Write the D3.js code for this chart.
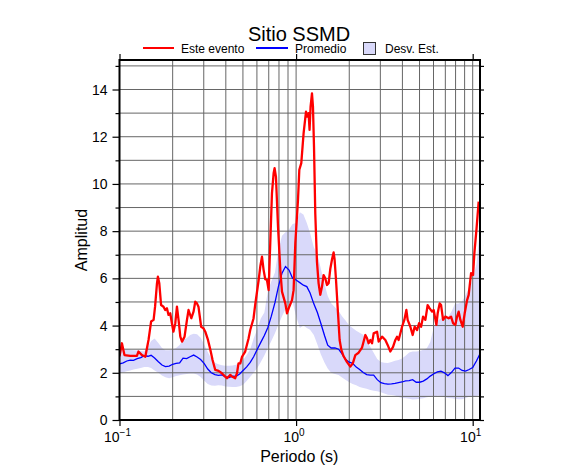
<!DOCTYPE html>
<html>
<head>
<meta charset="utf-8">
<script src="https://cdn.jsdelivr.net/npm/d3@7/dist/d3.min.js"></script>
<style>
  body { margin: 0; background: #fff; }
  svg text { font-family: "Liberation Sans", Arial, Helvetica, sans-serif; fill: #000; }
</style>
</head>
<body>
<svg id="svg1" width="586" height="475"></svg>
<script>
// periods (s) shared by the mean and the std-dev band
periods = [0.1, 0.105, 0.11, 0.115, 0.12, 0.126, 0.132, 0.138, 0.145, 0.151,
  0.158, 0.166, 0.174, 0.182, 0.191, 0.2, 0.209, 0.219, 0.229, 0.24,
  0.251, 0.263, 0.275, 0.288, 0.302, 0.316, 0.331, 0.347, 0.363, 0.38,
  0.398, 0.417, 0.437, 0.457, 0.479, 0.501, 0.525, 0.55, 0.575, 0.603,
  0.631, 0.661, 0.692, 0.724, 0.759, 0.794, 0.832, 0.871, 0.912, 0.955,
  1.0, 1.05, 1.1, 1.15, 1.2, 1.26, 1.32, 1.38, 1.45, 1.51,
  1.58, 1.66, 1.74, 1.82, 1.91, 2.0, 2.09, 2.19, 2.29, 2.4,
  2.51, 2.63, 2.75, 2.88, 3.02, 3.16, 3.31, 3.47, 3.63, 3.8,
  3.98, 4.17, 4.37, 4.57, 4.79, 5.01, 5.25, 5.5, 5.75, 6.03,
  6.31, 6.61, 6.92, 7.24, 7.59, 7.94, 8.32, 8.71, 9.12, 9.55,
  10.0, 10.5, 11.0];

// Promedio
meanAmp = [2.38, 2.42, 2.5, 2.54, 2.53, 2.6, 2.64, 2.72, 2.7, 2.74,
  2.63, 2.47, 2.33, 2.26, 2.28, 2.36, 2.4, 2.42, 2.62, 2.6,
  2.68, 2.75, 2.67, 2.56, 2.39, 2.16, 2.0, 1.92, 1.89, 1.91,
  1.83, 1.8, 1.86, 1.85, 1.95, 2.1, 2.25, 2.44, 2.68, 3.0,
  3.29, 3.58, 3.92, 4.4, 4.97, 5.65, 6.22, 6.5, 6.35, 6.0,
  5.93, 5.82, 5.71, 5.65, 5.38, 4.92, 4.55, 4.1, 3.57, 3.17,
  3.05, 3.05, 3.0, 2.8, 2.56, 2.45, 2.4, 2.24, 2.14, 2.01,
  1.92, 1.9, 1.9, 1.71, 1.58, 1.54, 1.52, 1.53, 1.55, 1.58,
  1.61, 1.66, 1.67, 1.71, 1.6, 1.6, 1.65, 1.74, 1.86, 1.96,
  2.04, 2.07, 2.0, 1.88, 2.02, 2.2, 2.2, 2.1, 2.07, 2.14,
  2.22, 2.5, 2.8];

// Desv. Est. band, upper and lower edges
sdHigh = [2.97, 2.99, 3.0, 2.98, 2.96, 2.94, 2.92, 2.9, 3.1, 3.35,
  3.45, 3.26, 3.05, 2.96, 2.95, 2.99, 3.05, 3.18, 3.41, 3.46,
  3.6, 3.65, 3.63, 3.48, 3.2, 2.88, 2.6, 2.42, 2.36, 2.32,
  2.3, 2.3, 2.31, 2.34, 2.42, 2.53, 2.75, 3.0, 3.45, 3.85,
  4.3, 4.55, 5.45, 5.88, 6.25, 7.2, 7.8, 7.95, 8.07, 8.3,
  8.35, 8.8, 8.7, 8.34, 7.92, 7.32, 7.02, 6.42, 5.75, 5.25,
  4.95, 4.78, 4.62, 4.4, 4.2, 4.0, 3.9, 3.78, 3.7, 3.61,
  3.35, 3.1, 2.85, 2.58, 2.46, 2.42, 2.41, 2.46, 2.51, 2.54,
  2.6, 2.72, 2.86, 2.9, 2.9, 2.92, 2.98, 3.04, 3.3, 3.95,
  4.2, 4.3, 4.45, 4.35, 4.6, 4.92, 4.94, 5.02, 5.3, 5.62,
  5.95, 6.6, 8.1];

sdLow = [1.99, 2.02, 2.06, 2.1, 2.14, 2.17, 2.2, 2.25, 2.25, 2.2,
  2.1, 2.0, 1.88, 1.81, 1.77, 1.81, 1.86, 1.9, 1.93, 1.95,
  1.97, 1.97, 1.93, 1.82, 1.66, 1.52, 1.46, 1.45, 1.47, 1.46,
  1.42, 1.41, 1.4, 1.4, 1.43, 1.49, 1.65, 1.83, 2.0, 2.2,
  2.46, 2.73, 3.05, 3.35, 3.68, 4.03, 4.4, 4.7, 4.9, 5.0,
  4.4, 3.9, 4.0, 3.9, 3.82, 3.6, 3.2, 2.78, 2.42, 2.18,
  2.0, 1.95, 1.91, 1.8, 1.69, 1.6, 1.53, 1.47, 1.4, 1.36,
  1.32, 1.27, 1.24, 1.22, 1.18, 1.12, 1.07, 1.06, 1.04, 0.97,
  0.93, 0.92, 0.9, 0.87, 0.88, 0.9, 0.92, 0.96, 0.98, 1.0,
  1.03, 1.02, 0.97, 0.93, 0.92, 0.9, 0.88, 0.88, 0.93, 0.98,
  1.0, 1.02, 1.06];

// Este evento
eventPeriods = [0.1, 0.1032, 0.1067, 0.115, 0.1255, 0.128, 0.134, 0.14, 0.146, 0.151,
  0.156, 0.159, 0.163, 0.165, 0.168, 0.172, 0.1775, 0.1815, 0.1856, 0.1895,
  0.1938, 0.198, 0.202, 0.207, 0.2115, 0.216, 0.221, 0.226, 0.2335, 0.241,
  0.246, 0.255, 0.2626, 0.2685, 0.2745, 0.28, 0.29, 0.299, 0.306, 0.317,
  0.3265, 0.3365, 0.3485, 0.364, 0.38, 0.397, 0.406, 0.424, 0.433, 0.452,
  0.4625, 0.472, 0.483, 0.494, 0.515, 0.538, 0.55, 0.574, 0.587, 0.6,
  0.613, 0.627, 0.641, 0.6545, 0.669, 0.684, 0.699, 0.714, 0.73, 0.746,
  0.7555, 0.769, 0.79, 0.814, 0.832, 0.869, 0.888, 0.915, 0.948, 0.968,
  0.99, 1.025, 1.043, 1.07, 1.088, 1.103, 1.138, 1.157, 1.177, 1.192,
  1.208, 1.23, 1.246, 1.263, 1.284, 1.313, 1.341, 1.371, 1.402, 1.431,
  1.463, 1.496, 1.528, 1.562, 1.597, 1.631, 1.652, 1.683, 1.727, 1.764,
  1.804, 1.858, 1.943, 2.028, 2.095, 2.165, 2.26, 2.363, 2.467, 2.522,
  2.575, 2.633, 2.692, 2.749, 2.874, 2.934, 3.067, 3.202, 3.299, 3.417,
  3.54, 3.648, 3.73, 3.808, 3.981, 4.102, 4.211, 4.283, 4.436, 4.572,
  4.693, 4.842, 4.97, 5.102, 5.236, 5.395, 5.559, 5.707, 5.888, 6.012,
  6.228, 6.335, 6.501, 6.622, 6.797, 7.004, 7.311, 7.544, 7.745, 7.98,
  8.158, 8.331, 8.517, 8.776, 9.009, 9.296, 9.491, 9.792, 10.05, 10.22,
  10.5, 10.81];

eventAmp = [2.7, 3.25, 2.75, 2.72, 2.72, 2.9, 2.75, 2.68, 3.39, 4.17,
  4.24, 4.8, 5.79, 6.07, 5.79, 4.87, 4.8, 4.66, 4.73, 4.45,
  4.52, 4.1, 3.74, 4.1, 4.8, 4.24, 3.53, 3.32, 3.53, 4.24,
  4.66, 4.31, 4.59, 5.01, 4.94, 4.8, 3.95, 3.88, 3.74, 3.39,
  3.0, 2.54, 2.12, 2.08, 1.98, 1.84, 1.77, 1.91, 1.84, 1.77,
  1.98, 2.4, 2.4, 2.68, 2.9, 3.45, 3.81, 4.3, 4.9, 5.4,
  5.9, 6.5, 6.92, 6.36, 5.96, 5.93, 5.5, 7.49, 9.6, 10.45,
  10.67, 10.3, 8.19, 6.36, 5.44, 4.94, 4.52, 4.8, 5.08, 5.5,
  7.5, 9.32, 10.6, 10.88, 11.58, 12.15, 13.06, 12.85, 13.0, 12.29,
  13.28, 13.84, 13.28, 11.58, 8.76, 6.7, 5.79, 5.3, 5.65, 6.14,
  6.0, 5.72, 5.79, 6.4, 6.8, 7.1, 6.8, 5.93, 4.52, 3.39,
  2.97, 2.7, 2.45, 2.26, 2.4, 2.75, 2.85, 3.07, 3.6, 3.46,
  3.25, 3.39, 3.25, 3.67, 3.74, 3.32, 3.53, 3.39, 3.18, 2.9,
  3.1, 3.39, 3.53, 3.39, 3.95, 4.24, 4.66, 4.24, 3.95, 3.6,
  3.95, 3.81, 4.1, 3.95, 4.38, 4.24, 4.87, 4.73, 4.59, 4.66,
  4.03, 4.52, 4.94, 4.87, 4.24, 4.38, 4.31, 4.38, 4.1, 4.03,
  4.38, 4.59, 4.24, 3.95, 4.52, 5.08, 5.3, 6.22, 6.14, 7.06,
  8.05, 9.25];

yTicks = [0, 2, 4, 6, 8, 10, 12, 14];
xDecades = [-1, 0, 1];

margin = { top: 60, right: 106, bottom: 55, left: 119.5 };

document.addEventListener('DOMContentLoaded', function() {
  svg = d3.select('#svg1');
  width = +svg.attr('width');
  height = +svg.attr('height');
  innerWidth = width - margin.left - margin.right;
  innerHeight = height - margin.top - margin.bottom;
  drawChart();
});

function drawChart() {
  var xScale = d3.scaleLog()
                 .domain([0.1, 11])
                 .range([0, innerWidth]);
  var yScale = d3.scaleLinear()
                 .domain([0, 15.25])
                 .range([innerHeight, 0]);

  var g = svg.append('g')
             .attr('transform', `translate(${margin.left},${margin.top})`);

  g.append('clipPath').attr('id', 'plotclip')
   .append('rect').attr('width', innerWidth).attr('height', innerHeight);

  var band = periods.map((p, i) => ({ p: p, lo: sdLow[i], hi: sdHigh[i], m: meanAmp[i] }));
  var events = eventPeriods.map((p, i) => ({ p: p, v: eventAmp[i] }));

  var plot = g.append('g').attr('clip-path', 'url(#plotclip)');

  // std dev band
  plot.append('path')
      .datum(band)
      .style('fill', '#d9d9fa')
      .style('stroke', 'none')
      .attr('d', d3.area()
                   .x(d => xScale(d.p))
                   .y0(d => yScale(d.lo))
                   .y1(d => yScale(d.hi)));

  // grid lines
  var minorX = [];
  [0.1, 1].forEach(function(dec) {
    for (var k = 2; k <= 9; k++) minorX.push(dec * k);
  });
  minorX.push(1, 10);
  plot.selectAll('.vgrid')
      .data(minorX)
      .enter()
      .append('line')
      .attr('x1', d => xScale(d)).attr('x2', d => xScale(d))
      .attr('y1', 0).attr('y2', innerHeight)
      .style('stroke', '#666')
      .style('stroke-width', 1);
  plot.selectAll('.hgrid')
      .data(d3.range(1, 16))
      .enter()
      .append('line')
      .attr('x1', 0).attr('x2', innerWidth)
      .attr('y1', d => yScale(d)).attr('y2', d => yScale(d))
      .style('stroke', '#666')
      .style('stroke-width', 1);

  // mean
  plot.append('path')
      .datum(band)
      .style('fill', 'none')
      .style('stroke', '#0000ff')
      .style('stroke-width', 1.3)
      .attr('d', d3.line().x(d => xScale(d.p)).y(d => yScale(d.m)));

  // this event
  plot.append('path')
      .datum(events)
      .style('fill', 'none')
      .style('stroke', '#ff0000')
      .style('stroke-width', 2.3)
      .style('stroke-linejoin', 'round')
      .attr('d', d3.line().x(d => xScale(d.p)).y(d => yScale(d.v)));

  // frame
  g.append('rect')
   .attr('width', innerWidth).attr('height', innerHeight)
   .style('fill', 'none')
   .style('stroke', '#000')
   .style('stroke-width', 2);

  // left axis
  var unitTicks = d3.range(0, 16);
  var yLeft = g.append('g')
               .call(d3.axisLeft(yScale).tickValues(unitTicks)
                       .tickSize(4).tickFormat(''));
  yLeft.select('.domain').remove();
  yLeft.selectAll('text').remove();
  yLeft.selectAll('line').attr('x2', d => d % 2 === 0 ? -7 : -4).style('stroke-width', 1.2);
  g.selectAll('.ylab')
   .data(yTicks)
   .enter()
   .append('text')
   .attr('x', -12)
   .attr('y', d => yScale(d))
   .attr('dy', '0.36em')
   .attr('text-anchor', 'end')
   .style('font-size', '14px')
   .text(d => d);

  // right axis
  var yRight = g.append('g')
                .attr('transform', `translate(${innerWidth},0)`)
                .call(d3.axisRight(yScale).tickValues(unitTicks)
                        .tickSize(4).tickFormat(''));
  yRight.select('.domain').remove();
  yRight.selectAll('text').remove();
  yRight.selectAll('line').style('stroke-width', 1.2);

  // bottom and top axes (decades only)
  var decadeVals = xDecades.map(e => Math.pow(10, e));
  var xBottom = g.append('g')
                 .attr('transform', `translate(0,${innerHeight})`)
                 .call(d3.axisBottom(xScale).tickValues(decadeVals)
                         .tickSize(6).tickFormat(''));
  xBottom.select('.domain').remove();
  xBottom.selectAll('text').remove();
  xBottom.selectAll('line').style('stroke-width', 1.2);
  var xTop = g.append('g')
              .call(d3.axisTop(xScale).tickValues(decadeVals)
                      .tickSize(6).tickFormat(''));
  xTop.select('.domain').remove();
  xTop.selectAll('text').remove();
  xTop.selectAll('line').style('stroke-width', 1.2);

  var xl = g.selectAll('.xlab')
            .data(xDecades)
            .enter()
            .append('text')
            .attr('x', d => xScale(Math.pow(10, d)) - 2)
            .attr('y', innerHeight + 22)
            .attr('text-anchor', 'middle')
            .style('font-size', '14px');
  xl.append('tspan').text('10');
  xl.append('tspan')
    .attr('dy', -6)
    .style('font-size', '10px')
    .text(d => d < 0 ? '\u2212' + (-d) : d);

  // axis titles
  g.append('text')
   .attr('x', innerWidth / 2 - 0.5)
   .attr('y', innerHeight + 42)
   .attr('text-anchor', 'middle')
   .style('font-size', '16px')
   .text('Periodo (s)');
  g.append('text')
   .attr('transform', 'rotate(-90)')
   .attr('x', -innerHeight / 2)
   .attr('y', -33)
   .attr('text-anchor', 'middle')
   .style('font-size', '16px')
   .text('Amplitud');

  // title
  svg.append('text')
     .attr('x', 299)
     .attr('y', 41)
     .attr('text-anchor', 'middle')
     .style('font-size', '20px')
     .text('Sitio SSMD');

  // legend
  var leg = svg.append('g').attr('transform', 'translate(0,48)');
  leg.append('line').attr('x1', 143).attr('x2', 174).attr('y1', 0).attr('y2', 0)
     .style('stroke', '#ff0000').style('stroke-width', 2);
  leg.append('text').attr('x', 181).attr('y', 4.5).style('font-size', '12px').text('Este evento');
  leg.append('line').attr('x1', 256).attr('x2', 288).attr('y1', 0).attr('y2', 0)
     .style('stroke', '#0000ff').style('stroke-width', 2);
  leg.append('text').attr('x', 295).attr('y', 4.5).style('font-size', '12px').text('Promedio');
  leg.append('rect').attr('x', 363.5).attr('y', -5.5).attr('width', 12).attr('height', 12)
     .style('fill', '#d9d9fa').style('stroke', '#333').style('stroke-width', 1);
  leg.append('text').attr('x', 385).attr('y', 4.5).style('font-size', '12px').text('Desv. Est.');
}
</script>
</body>
</html>
